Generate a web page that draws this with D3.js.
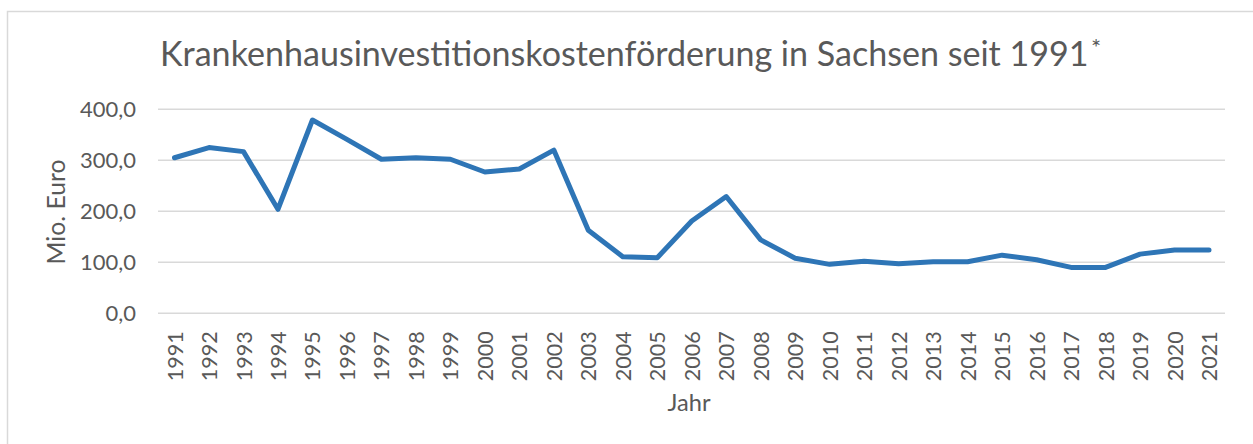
<!DOCTYPE html>
<html>
<head>
<meta charset="utf-8">
<script src="https://cdn.jsdelivr.net/npm/d3@7"></script>
<style>
  html, body { margin: 0; padding: 0; background: #fff; }
  text { font-family: Lato, "Open Sans", sans-serif; fill: #595959; }
</style>
</head>
<body>
<svg id="chart" width="1253" height="444"></svg>
<script>
const years = ["1991","1992","1993","1994","1995","1996","1997","1998","1999","2000",
  "2001","2002","2003","2004","2005","2006","2007","2008","2009","2010",
  "2011","2012","2013","2014","2015","2016","2017","2018","2019","2020","2021"];
const values = [305, 325, 317, 204, 379, 341, 302, 305, 302, 277,
  283, 320, 163, 111, 109, 181, 229, 144, 108, 96,
  102, 97, 101, 101, 114, 105, 90, 90, 116, 124, 124];
const yTicks = [0, 100, 200, 300, 400];
const title = "Krankenhausinvestitionskostenförderung in Sachsen seit 1991";
const yLabel = "Mio. Euro";
const xLabel = "Jahr";

const svg = d3.select("#chart");

function fitSize(sel, targetWidth) {
  sel.style("font-size", "20px");
  const w = sel.node().getComputedTextLength();
  return 20 * targetWidth / w;
}

// chart border
svg.append("rect")
  .attr("x", 7.5).attr("y", 11.5)
  .attr("width", 1260).attr("height", 450)
  .attr("fill", "none").attr("stroke", "#d9d9d9").attr("stroke-width", 1.5);

const x = d3.scalePoint().domain(years).range([174.5, 1209]);
const y = d3.scaleLinear().domain([0, 400]).range([313.3, 109.3]);
const plotLeft = 158, plotRight = 1225;

// gridlines
svg.append("g").selectAll("line").data(yTicks).join("line")
  .attr("x1", plotLeft).attr("x2", plotRight)
  .attr("y1", d => y(d)).attr("y2", d => y(d))
  .attr("stroke", "#d9d9d9").attr("stroke-width", 1.5);

// y axis labels
const fmt = d => d3.format(".1f")(d).replace(".", ",");
const yAxis = svg.append("g").attr("transform", `translate(136,0)`)
  .call(d3.axisLeft(y).tickValues(yTicks).tickFormat(fmt).tickSize(0).tickPadding(0));
yAxis.select(".domain").remove();
yAxis.selectAll("text").style("font-family", "Lato, sans-serif").attr("fill", "#595959");
const yTickSize = fitSize(yAxis.selectAll("text").filter(d => d === 400), 56);
yAxis.selectAll("text").style("font-size", yTickSize + "px");

// x axis labels
const xAxis = svg.append("g").attr("transform", `translate(0,${y(0)})`)
  .call(d3.axisBottom(x).tickSize(0).tickPadding(0));
xAxis.select(".domain").remove();
xAxis.selectAll("text")
  .style("font-family", "Lato, sans-serif").attr("fill", "#595959")
  .attr("text-anchor", "end")
  .attr("dy", "0.35em")
  .attr("transform", "translate(0,18) rotate(-90)")
  .attr("x", 0).attr("y", 0);
const xTickSize = fitSize(xAxis.selectAll("text").filter(d => d === "1991"), 50);
xAxis.selectAll("text").style("font-size", xTickSize + "px");

// line
svg.append("path")
  .datum(values.map((v, i) => [years[i], v]))
  .attr("fill", "none")
  .attr("stroke", "#2e75b6")
  .attr("stroke-width", 5)
  .attr("stroke-linejoin", "round")
  .attr("stroke-linecap", "round")
  .attr("d", d3.line().x(d => x(d[0])).y(d => y(d[1])));

// title
const t = svg.append("text").attr("x", 160).attr("y", 66).text(title);
t.style("font-size", fitSize(t, 929) + "px");
svg.append("text").attr("x", 1091).attr("y", 56)
  .style("font-size", "24px").text("*");

// axis titles
const yl = svg.append("text")
  .attr("transform", `translate(65,212) rotate(-90)`)
  .attr("text-anchor", "middle").text(yLabel);
yl.style("font-size", fitSize(yl, 105) + "px");
const xl = svg.append("text")
  .attr("x", 689).attr("y", 411)
  .attr("text-anchor", "middle").text(xLabel);
xl.style("font-size", fitSize(xl, 43) + "px");
</script>
</body>
</html>
